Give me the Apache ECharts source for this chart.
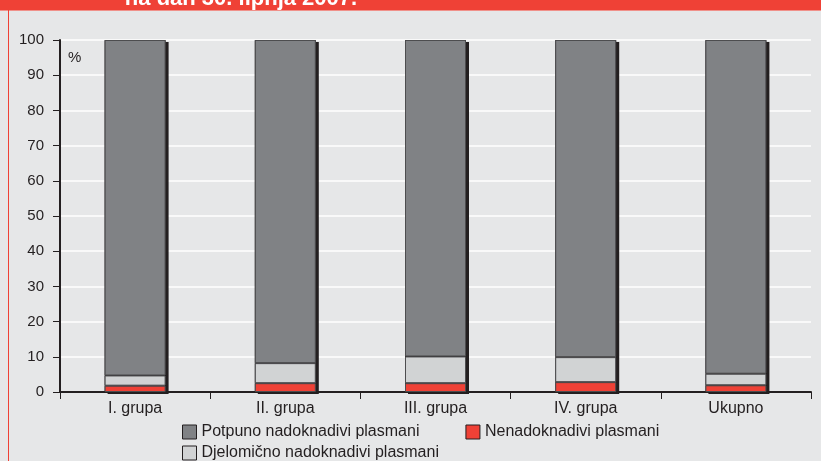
<!DOCTYPE html>
<html>
<head>
<meta charset="utf-8">
<script src="https://cdn.jsdelivr.net/npm/echarts@6/dist/echarts.min.js"></script>
<style>
  html, body { margin: 0; padding: 0; background: #e6e7e8; }
  #main { width: 821px; height: 461px; }
</style>
</head>
<body>
<div id="main"></div>
<script>
// kategorije i vrijednosti (%)
var categories = ['I. grupa', 'II. grupa', 'III. grupa', 'IV. grupa', 'Ukupno'];
var nenadoknadivi = [1.8, 2.5, 2.5, 2.8, 1.9];
var djelomicno = [2.9, 5.7, 7.6, 7.1, 3.3];
var potpuno = [95.3, 91.8, 89.9, 90.1, 94.8];
var yTicks = [0, 10, 20, 30, 40, 50, 60, 70, 80, 90, 100];

var names = ['Potpuno nadoknadivi plasmani', 'Djelomično nadoknadivi plasmani', 'Nenadoknadivi plasmani'];
var ukupno = categories.map(function (c, i) {
	return +(nenadoknadivi[i] + djelomicno[i] + potpuno[i]).toFixed(1);
});

var font = 'Liberation Sans, Arial, sans-serif';
var chart = echarts.init(document.getElementById('main'));

function segment(name, data, color) {
	return {
		name: name,
		type: 'bar',
		stack: 'ukupno',
		barWidth: 61,
		barGap: '-100%',
		z: 3,
		data: data,
		itemStyle: { color: color, borderColor: '#4d4d4f', borderWidth: 1 }
	};
}

var legendText = { fontFamily: font, fontSize: 16, color: '#231f20' };
var legendItem = { borderColor: '#231f20', borderWidth: 1 };

chart.setOption({
	backgroundColor: '#e6e7e8',
	animation: false,
	grid: { left: 60, right: 10, top: 40, bottom: 69 },
	graphic: [
		// crveni okvir
		{ type: 'rect', shape: { x: 0, y: 0, width: 821, height: 10 }, style: { fill: '#ef4136' }, z: 10 },
		{ type: 'rect', shape: { x: 0, y: 10, width: 821, height: 1 }, style: { fill: '#f0918a' }, z: 10 },
		{ type: 'rect', shape: { x: 8, y: 10, width: 1, height: 451 }, style: { fill: '#ef4136' }, z: 10 },
		{ type: 'text', x: 241, y: -12, z: 11,
		  style: { text: 'na dan 30. lipnja 2007.', fill: '#ffffff', font: 'bold 22px ' + font,
		           textAlign: 'center' } },
		{ type: 'text', x: 68, y: 50, z: 11,
		  style: { text: '%', fill: '#231f20', font: '15px ' + font } }
	],
	legend: [
		{ data: [names[0], names[2]], left: 182, top: 424, padding: 0, icon: 'rect',
		  itemWidth: 14, itemHeight: 14, itemGap: 46,
		  textStyle: legendText, itemStyle: legendItem },
		{ data: [names[1]], left: 182, top: 445, padding: 0, icon: 'rect',
		  itemWidth: 14, itemHeight: 14,
		  textStyle: legendText, itemStyle: legendItem }
	],
	xAxis: {
		type: 'category',
		data: categories,
		axisLine: { lineStyle: { color: '#231f20', width: 2 } },
		axisTick: { show: true, length: 7, lineStyle: { color: '#231f20', width: 1 } },
		axisLabel: { margin: 9, fontFamily: font, fontSize: 16, color: '#231f20' }
	},
	yAxis: {
		type: 'value',
		min: yTicks[0],
		max: yTicks[yTicks.length - 1],
		interval: 10,
		axisLine: { show: true, lineStyle: { color: '#231f20', width: 2 } },
		axisTick: { show: true, length: 7, lineStyle: { color: '#231f20', width: 1 } },
		axisLabel: { margin: 16, fontFamily: font, fontSize: 15, color: '#231f20' },
		splitLine: { lineStyle: { color: '#ffffff', width: 1.5 } }
	},
	series: [
		{   // sjena stupca
			name: 'sjena',
			type: 'bar',
			barWidth: 61,
			barGap: '-100%',
			z: 2,
			data: ukupno,
			silent: true,
			itemStyle: { color: '#231f20', shadowColor: '#231f20', shadowBlur: 0, shadowOffsetX: 3, shadowOffsetY: 2 }
		},
		segment(names[2], nenadoknadivi, '#ef4136'),
		segment(names[1], djelomicno, '#d1d3d4'),
		segment(names[0], potpuno, '#808285')
	]
});
</script>
</body>
</html>
